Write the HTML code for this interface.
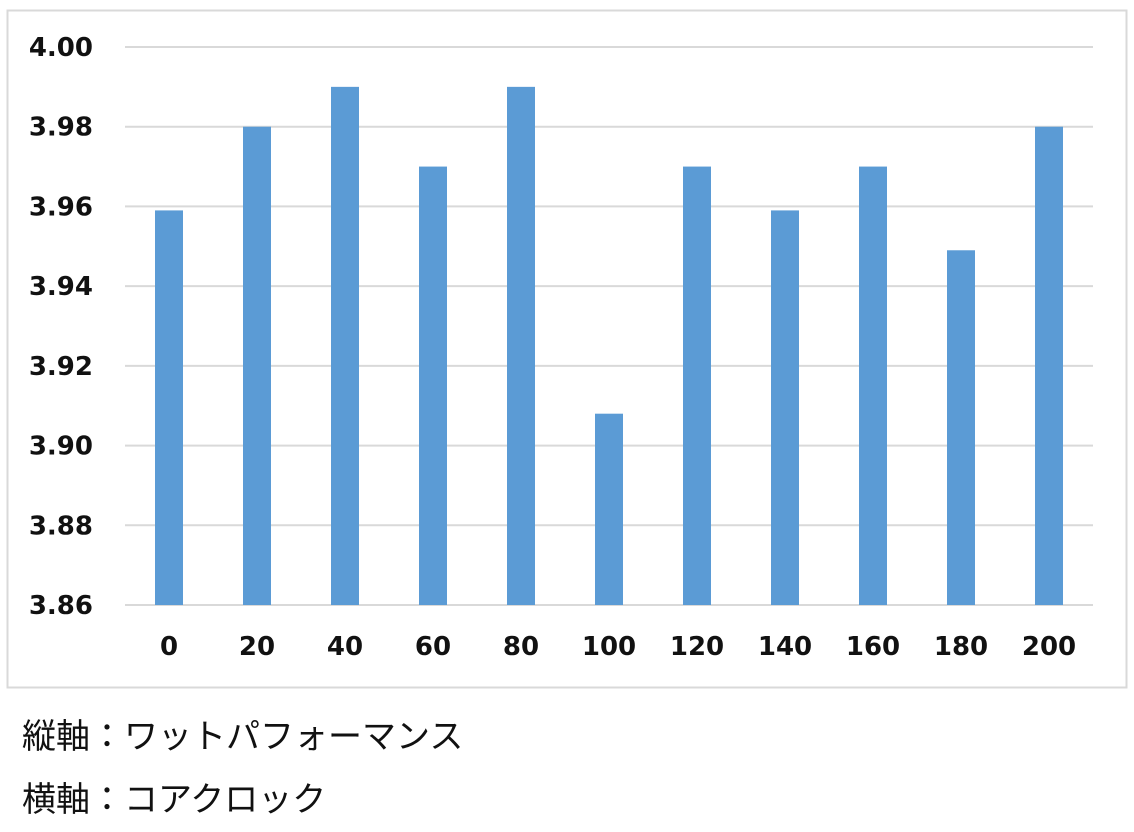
<!DOCTYPE html>
<html><head><meta charset="utf-8"><style>
body{margin:0;width:1134px;height:832px;background:#fff;overflow:hidden;font-family:"Liberation Sans","Noto Sans CJK JP",sans-serif}
.cap{position:absolute;left:22px;font-size:34px;line-height:40px;color:#111;font-family:"Liberation Sans","Noto Sans CJK JP",sans-serif}
</style></head><body>
<svg width="1134" height="700" style="position:absolute;left:0;top:0">
<rect x="7.5" y="10.5" width="1119" height="677" fill="#fff" stroke="#d9d9d9" stroke-width="2"/>
<g id="grid"></g><g id="bars"></g><g id="ylab"></g><g id="xlab"></g>
</svg>
<div class="cap" style="top:717px">縦軸：ワットパフォーマンス</div>
<div class="cap" style="top:780px">横軸：コアクロック</div>
<script>
const categories=["0","20","40","60","80","100","120","140","160","180","200"];
const values=[3.959,3.98,3.99,3.97,3.99,3.908,3.97,3.959,3.97,3.949,3.98];
const yTicks=[3.86,3.88,3.90,3.92,3.94,3.96,3.98,4.00];
const NS="http://www.w3.org/2000/svg";
const L=125,R=1093,T=47,B=605,ymin=3.86,ymax=4.00;
const y=v=>B-(v-ymin)/(ymax-ymin)*(B-T);
const bw=(R-L)/categories.length;
const x=i=>L+bw*(i+0.5);
function mk(tag,attrs,parent){const e=document.createElementNS(NS,tag);for(const k in attrs)e.setAttribute(k,attrs[k]);document.getElementById(parent).appendChild(e);return e;}
yTicks.forEach(t=>{
 const g=mk('line',{x1:L,x2:R,y1:y(t),y2:y(t),stroke:'#d9d9d9','stroke-width':2},'grid');
 
 
 const tx=mk('text',{x:93,y:y(t)+9,'text-anchor':'end','font-family':'DejaVu Sans, sans-serif','font-weight':'bold','font-size':26,fill:'#111'},'ylab');
 tx.textContent=t.toFixed(2);
 
 
});
values.forEach((v,i)=>{
 const r=mk('rect',{x:x(i)-14,y:y(v),width:28,height:B-y(v),fill:'#5b9bd5'},'bars');
 
 
 const tx=mk('text',{x:x(i),y:655,'text-anchor':'middle','font-family':'DejaVu Sans, sans-serif','font-weight':'bold','font-size':26,fill:'#111'},'xlab');
 tx.textContent=categories[i];
 
 
});
</script>
</body></html>
